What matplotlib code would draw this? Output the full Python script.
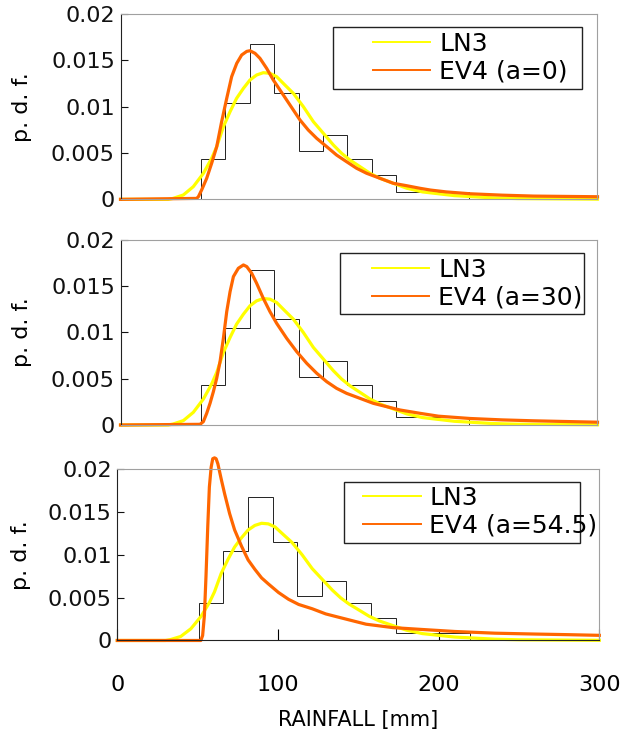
import numpy as np
import matplotlib
matplotlib.use('Agg')
from matplotlib import pyplot as plt
from matplotlib.patches import Rectangle

# histogram of observed rainfall (bin edges and densities)
hist_edges = [50.6, 65.9, 81.3, 96.6, 112.0, 127.3, 142.6, 158.0, 173.3, 188.7, 204.0, 219.3]
hist_heights = [0.00432, 0.01043, 0.01673, 0.01151, 0.00518, 0.00691, 0.00432, 0.00259, 0.00083, 0.00083, 0.00083]

# LN3 fitted pdf (same in every panel)
ln3_x = [0, 30, 33, 39.5, 45.8, 52.1, 57.3, 60.5, 64.7, 68.9, 73, 77.3, 81.4, 85.6, 89.8, 94, 98.2,
         103.4, 108.7, 115, 121.3, 127.6, 133.9, 139.1, 144.3, 150.6, 156.9, 163.2, 171.6, 180,
         185, 190, 200, 210, 220, 235, 250, 300]
ln3_y = [0, 0, 0.0001, 0.00047, 0.00137, 0.0028, 0.00442, 0.00568, 0.00784, 0.00946, 0.0109, 0.01198,
         0.01288, 0.01342, 0.01367, 0.0136, 0.01324, 0.01234, 0.01144, 0.01, 0.00838, 0.00712, 0.00586,
         0.00496, 0.00424, 0.00353, 0.00281, 0.00227, 0.00173, 0.0012, 0.001, 0.0008, 0.0006, 0.0004,
         0.0003, 0.00015, 0.00008, 0.00002]

# EV4 fitted pdfs
ev0_x = [0, 47.9, 49, 51, 54.2, 57.3, 60.5, 63.6, 66.8, 69.9, 73.1, 76.2, 79.4, 81.4, 84.6, 87.7, 91.9,
         96.1, 102.4, 108.7, 112.9, 118.1, 123.4, 129.7, 135.9, 142.2, 148.5, 154.8, 163.2, 171.6, 180,
         188.4, 195, 205, 220, 240, 260, 300]
ev0_y = [0, 0.0001, 0.00029, 0.001, 0.00227, 0.00388, 0.00568, 0.00838, 0.0109, 0.01324, 0.01468,
         0.01558, 0.01597, 0.01604, 0.01576, 0.01522, 0.01414, 0.01288, 0.01126, 0.00964, 0.00856,
         0.00748, 0.00658, 0.00568, 0.00478, 0.00406, 0.00335, 0.00281, 0.00227, 0.00173, 0.00147,
         0.00119, 0.001, 0.0008, 0.0006, 0.00045, 0.00035, 0.00028]

ev30_x = [0, 50, 52.1, 54.2, 56.3, 58.4, 60.5, 62.6, 64.7, 66.8, 68.9, 71, 74.1, 77.3, 79.4, 82.5, 85.6,
          89.8, 94, 98.2, 104.5, 110.8, 117.1, 123.4, 129.7, 135.9, 142.2, 150.6, 159, 167.4, 175.8,
          188.4, 200, 220, 240, 260, 300]
ev30_y = [0, 0.00007, 0.00036, 0.00126, 0.00234, 0.0036, 0.00505, 0.00685, 0.00937, 0.01225, 0.01441,
          0.01604, 0.01694, 0.0173, 0.01712, 0.0164, 0.01532, 0.01369, 0.01225, 0.01099, 0.00937,
          0.00793, 0.00667, 0.00559, 0.00468, 0.00396, 0.00342, 0.00288, 0.00234, 0.00198, 0.00162,
          0.00126, 0.00095, 0.0007, 0.00055, 0.00045, 0.0003]

ev54_x = [0, 52, 53.1, 54.2, 55.2, 56.3, 57.3, 58.4, 59.4, 60.5, 61.5, 62.6, 64.7, 66.8, 69.9, 73, 77.3,
          81.4, 85.6, 89.8, 94, 100.3, 106.6, 112.9, 121.3, 129.7, 138, 146.4, 154.8, 163.2, 171.6,
          180, 190, 210, 235, 260, 280, 300]
ev54_y = [0, 0, 0.00058, 0.0029, 0.0075, 0.0133, 0.0179, 0.0202, 0.0212, 0.0213, 0.0212, 0.0206,
          0.0188, 0.0171, 0.0148, 0.0129, 0.011, 0.0094, 0.0083, 0.0073, 0.0066, 0.0056, 0.0048,
          0.0042, 0.0037, 0.0031, 0.0027, 0.0023, 0.0019, 0.0017, 0.0015, 0.0014, 0.00128, 0.00105,
          0.00085, 0.00075, 0.00068, 0.0006]

ev_labels = ['EV4 (a=0)', 'EV4 (a=30)', 'EV4 (a=54.5)']
yticks = [0, 0.005, 0.01, 0.015, 0.02]
ytick_labels = ['0', '0.005', '0.01', '0.015', '0.02']
xticks = [0, 100, 200, 300]

plt.rcParams['font.family'] = ['DejaVu Sans']
YELLOW = '#ffff00'
ORANGE = '#ff6600'

fig = plt.figure(figsize=(6.3, 7.35), dpi=100)
ax_pos = [[0.1913, 0.7288, 0.7571, 0.2521],
          [0.1913, 0.4218, 0.7571, 0.2517],
          [0.1862, 0.1286, 0.7651, 0.2333]]
leg_anchor = [(0.529, 0.7625), (0.527, 0.762), (0.510, 0.749)]
leg_box = [(0.4455, 0.595, 0.522, 0.335), (0.460, 0.600, 0.512, 0.330), (0.470, 0.567, 0.490, 0.359)]
ev_x = [ev0_x, ev30_x, ev54_x]
ev_y = [ev0_y, ev30_y, ev54_y]

for i in range(3):
    ax = fig.add_axes(ax_pos[i])
    ax.stairs(hist_heights, hist_edges, color='#222222', lw=0.7, baseline=0)
    ax.plot(ln3_x, ln3_y, color=YELLOW, lw=2.3, clip_on=False)
    ax.plot(ev_x[i], ev_y[i], color=ORANGE, lw=2.3, clip_on=False)
    ax.set_xlim(0, 300)
    ax.set_ylim(0, 0.02)
    ax.set_yticks(yticks)
    ax.set_yticklabels(ytick_labels)
    ax.tick_params(axis='y', direction='in', length=5, labelsize=16, pad=4, colors='#111111')
    for s in ['top', 'right']:
        ax.spines[s].set_color('#a0a0a0')
    ax.spines['left'].set_color('#222222')
    ax.set_ylabel('p. d. f.', fontsize=16)
    ax.yaxis.set_label_coords(-0.185 if i < 2 else -0.18, 0.5)
    if i < 2:
        ax.spines['bottom'].set_color('#a0a0a0')
        ax.set_xticks([])
    else:
        ax.spines['bottom'].set_color('#222222')
        ax.set_xticks(xticks)
        ax.tick_params(axis='x', direction='in', length=8, labelsize=16, pad=25)
        ax.set_xlabel('RAINFALL [mm]', fontsize=15, labelpad=11)

    bx, by, bw, bh = leg_box[i]
    ax.add_patch(Rectangle((bx, by), bw, bh, transform=ax.transAxes, fill=False,
                           edgecolor='#222222', lw=1.0, zorder=5))
    h1, = ax.plot([], [], color=YELLOW, lw=1.4)
    h2, = ax.plot([], [], color=ORANGE, lw=1.4)
    ax.legend([h1, h2], ['LN3', ev_labels[i]], loc='center left', bbox_to_anchor=leg_anchor[i],
              frameon=False, fontsize=18, borderpad=0, borderaxespad=0, handlelength=2.3,
              handletextpad=0.35, labelspacing=0.15)

fig.savefig('out.png', dpi=100)
